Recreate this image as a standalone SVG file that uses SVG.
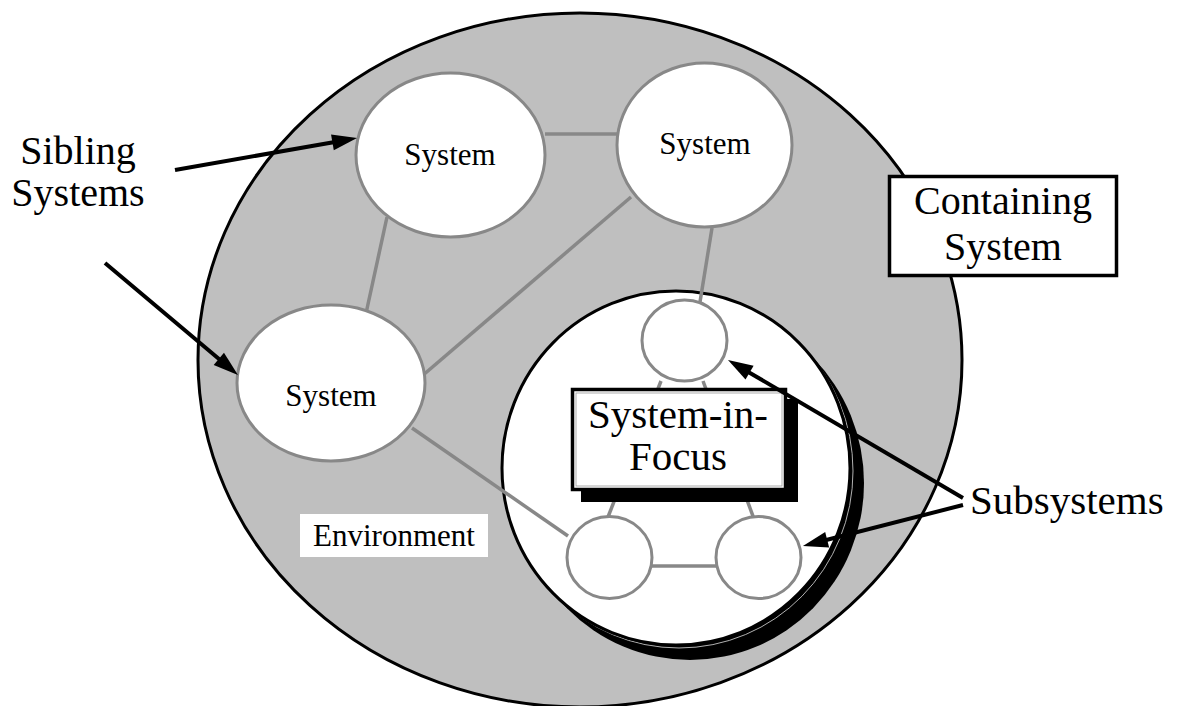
<svg xmlns="http://www.w3.org/2000/svg" width="1186" height="706" viewBox="0 0 1186 706">
  <style>
    .serif { font-family: "Liberation Serif", "Times New Roman", serif; fill: #000; }
    .big { font-size: 41px; }
    .small { font-size: 31px; }
    .sys { fill: #fff; stroke: #888; stroke-width: 3; }
    .link { stroke: #888; stroke-width: 3.5; fill: none; }
    .arrow { stroke: #000; stroke-width: 4; fill: none; marker-end: url(#ah); }
    .box { fill: #fff; stroke: #000; stroke-width: 3.5; }
  </style>
  <defs>
    <marker id="ah" markerUnits="userSpaceOnUse" markerWidth="26" markerHeight="18" refX="1" refY="8" orient="auto" overflow="visible">
      <path d="M0,0 L25,8 L0,16 z" fill="#000"/>
    </marker>
  </defs>
  <rect width="1186" height="706" fill="#fff"/>

  <g id="containing-system">
    <ellipse cx="580" cy="360" rx="382" ry="347" fill="#bfbfbf" stroke="#000" stroke-width="3"/>
  </g>

  <g id="system-in-focus-circle">
    <ellipse cx="690" cy="483" rx="174" ry="177" fill="#000"/>
    <ellipse cx="679" cy="471" rx="174" ry="177" fill="none" stroke="#ddd" stroke-width="0.8"/>
    <ellipse cx="676" cy="468" rx="174" ry="177" fill="#fff" stroke="#000" stroke-width="3"/>
  </g>

  <g id="connectors">
    <line class="link" x1="545" y1="134" x2="620" y2="134"/>
    <line class="link" x1="387" y1="217" x2="365" y2="318"/>
    <line class="link" x1="631" y1="197" x2="415" y2="382"/>
    <line class="link" x1="712" y1="228" x2="700" y2="302"/>
    <line class="link" x1="412" y1="428" x2="568" y2="536"/>
    <line class="link" x1="661" y1="381" x2="608" y2="517"/>
    <line class="link" x1="703" y1="381" x2="757" y2="527"/>
    <line class="link" x1="652" y1="566" x2="716" y2="566"/>
  </g>

  <g id="system-a">
    <ellipse class="sys" cx="450.5" cy="155" rx="94.5" ry="82"/>
    <text class="serif small" x="450" y="165" text-anchor="middle">System</text>
  </g>
  <g id="system-b">
    <ellipse class="sys" cx="704.5" cy="145" rx="87.5" ry="82"/>
    <text class="serif small" x="705" y="154" text-anchor="middle">System</text>
  </g>
  <g id="system-c">
    <ellipse class="sys" cx="331" cy="383" rx="94" ry="78"/>
    <text class="serif small" x="331" y="406" text-anchor="middle">System</text>
  </g>

  <g id="subsystem-top">
    <ellipse class="sys" cx="684.5" cy="340.5" rx="42.5" ry="40.5"/>
  </g>
  <g id="subsystem-left">
    <ellipse class="sys" cx="609.5" cy="557.5" rx="42.5" ry="41"/>
  </g>
  <g id="subsystem-right">
    <ellipse class="sys" cx="758.5" cy="557.5" rx="42.5" ry="41"/>
  </g>

  <g id="system-in-focus-label">
    <rect x="581" y="399" width="217" height="103" fill="#000"/>
    <rect class="box" x="572.5" y="389.5" width="213" height="100"/>
    <rect x="576" y="393" width="206" height="93" fill="none" stroke="#999" stroke-width="0.8"/>
    <text class="serif big" x="678" y="428" text-anchor="middle">System-in-</text>
    <text class="serif big" x="678" y="470" text-anchor="middle">Focus</text>
  </g>

  <g id="containing-system-label">
    <rect class="box" x="889.5" y="176.5" width="227" height="99"/>
    <text class="serif" font-size="40" x="1003" y="214" text-anchor="middle">Containing</text>
    <text class="serif" font-size="40" x="1003" y="260" text-anchor="middle">System</text>
  </g>

  <g id="environment-label">
    <rect x="300" y="514" width="188" height="43" fill="#fff"/>
    <text class="serif small" x="394" y="546" text-anchor="middle">Environment</text>
  </g>

  <g id="sibling-systems-label">
    <text class="serif" font-size="40" x="78" y="164" text-anchor="middle">Sibling</text>
    <text class="serif" font-size="40" x="78" y="206" text-anchor="middle">Systems</text>
  </g>

  <g id="subsystems-label">
    <text class="serif big" x="970" y="514">Subsystems</text>
  </g>

  <g id="annotation-arrows">
    <line class="arrow" x1="175" y1="170" x2="333.4" y2="142.2"/>
    <line class="arrow" x1="105" y1="263" x2="219.6" y2="359.5"/>
    <line class="arrow" x1="963" y1="498" x2="748.7" y2="372.2"/>
    <line class="arrow" x1="963" y1="505" x2="826.2" y2="540"/>
  </g>
</svg>
